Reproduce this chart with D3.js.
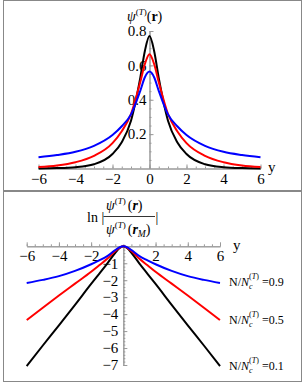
<!DOCTYPE html>
<html>
<head>
<meta charset="utf-8">
<script src="https://cdn.jsdelivr.net/npm/d3@7"></script>
<style>
  body { margin: 0; background: #fff; }
  svg { display: block; }
</style>
</head>
<body>
<svg id="chart" width="305" height="384"></svg>
<script>
// sample positions along y
let ys = [-6, -5, -4, -3, -2, -1.5, -1, -0.5, -0.25, 0, 0.25, 0.5, 1, 1.5, 2, 3, 4, 5, 6]

// top panel: psi(r)
let psiBlack = [0.0007, 0.0022, 0.0073, 0.0245, 0.084, 0.153, 0.278, 0.527, 0.684, 0.771, 0.684, 0.527, 0.278, 0.153, 0.084, 0.0245, 0.0073, 0.0022, 0.0007]
let psiRed = [0.0086, 0.0178, 0.0367, 0.0737, 0.148, 0.217, 0.317, 0.503, 0.608, 0.665, 0.608, 0.503, 0.317, 0.217, 0.148, 0.0737, 0.0367, 0.0178, 0.0086]
let psiBlue = [0.065, 0.078, 0.097, 0.132, 0.195, 0.246, 0.315, 0.452, 0.531, 0.564, 0.531, 0.452, 0.315, 0.246, 0.195, 0.132, 0.097, 0.078, 0.065]

// bottom panel: ln|psi(r)/psi(rM)|
let lnBlack = [-7.06, -5.85, -4.66, -3.45, -2.22, -1.62, -1.02, -0.38, -0.12, 0, -0.12, -0.38, -1.02, -1.62, -2.22, -3.45, -4.66, -5.85, -7.06]
let lnRed = [-4.35, -3.62, -2.9, -2.2, -1.5, -1.12, -0.74, -0.28, -0.09, 0, -0.09, -0.28, -0.74, -1.12, -1.5, -2.2, -2.9, -3.62, -4.35]
let lnBlue = [-2.16, -1.98, -1.76, -1.45, -1.06, -0.83, -0.58, -0.22, -0.06, 0, -0.06, -0.22, -0.58, -0.83, -1.06, -1.45, -1.76, -1.98, -2.16]

let legendLabels = ["0.9", "0.5", "0.1"]
let colors = ["#000000", "#ff0000", "#0000ff"]

let serif = "'Liberation Serif', 'DejaVu Serif', serif"
let svg = d3.select("#chart").style("font-family", serif)
let fmt = function (d) { return d < 0 ? "\u2212" + Math.abs(d) : String(d) }

// gray axis look, serif labels
function styleAxis(g) {
    g.attr("font-family", serif).attr("font-size", 15)
    g.selectAll("path, line").style("stroke", "#999")
    g.selectAll("text").style("fill", "#000").style("font-family", serif).style("font-size", "15px")
}

// panel frames
svg.append("rect").attr("x", 3.5).attr("y", 0.5).attr("width", 298).attr("height", 190)
    .style("fill", "none").style("stroke", "#888")
svg.append("rect").attr("x", 3.5).attr("y", 191.5).attr("width", 298).attr("height", 190)
    .style("fill", "none").style("stroke", "#888")

// ---------- top panel ----------
let xT = d3.scaleLinear().domain([-6, 6]).range([38.5, 260.5])
let yT = d3.scaleLinear().domain([0, 0.8]).range([168.5, 31])

let gT = svg.append("g")

// minor ticks
gT.append("g").attr("transform", "translate(0," + yT(0) + ")")
    .call(d3.axisBottom(xT).tickValues(d3.range(-6, 6.01, 0.5)).tickSize(-2).tickSizeOuter(0).tickFormat(""))
    .call(styleAxis)
gT.append("g").attr("transform", "translate(" + xT(0) + ",0)")
    .call(d3.axisLeft(yT).tickValues(d3.range(0.05, 0.81, 0.05)).tickSize(-2).tickSizeOuter(0).tickFormat(""))
    .call(styleAxis)
// major ticks
gT.append("g").attr("transform", "translate(0," + yT(0) + ")")
    .call(d3.axisBottom(xT).tickValues([-6, -4, -2, 0, 2, 4, 6]).tickSize(-4).tickSizeOuter(0).tickPadding(5).tickFormat(fmt))
    .call(styleAxis)
gT.append("g").attr("transform", "translate(" + xT(0) + ",0)")
    .call(d3.axisLeft(yT).tickValues([0.2, 0.4, 0.6, 0.8]).tickSize(-4).tickSizeOuter(0).tickPadding(3).tickFormat(d3.format(".1f")))
    .call(styleAxis)

let lineT = d3.line().x(function (d) { return xT(d[0]) }).y(function (d) { return yT(d[1]) }).curve(d3.curveMonotoneX)
let topSeries = [psiBlack, psiRed, psiBlue]
topSeries.forEach(function (s, i) {
    gT.append("path")
        .attr("d", lineT(ys.map(function (y, j) { return [y, s[j]] })))
        .style("fill", "none").style("stroke", colors[i]).style("stroke-width", 2)
})

// axis titles
let tT = svg.append("text").attr("x", 127).attr("y", 20.5).style("font-size", "14px")
tT.append("tspan").style("font-style", "italic").text("\u03C8")
tT.append("tspan").attr("dy", -6).style("font-size", "9px").text("(")
tT.append("tspan").style("font-size", "9px").style("font-style", "italic").text("T")
tT.append("tspan").style("font-size", "9px").text(")")
tT.append("tspan").attr("dy", 6).text("(")
tT.append("tspan").style("font-weight", "bold").text("r")
tT.append("tspan").text(")")

svg.append("text").attr("x", 268).attr("y", 172).style("font-size", "15px").text("y")

// ---------- bottom panel ----------
let xB = d3.scaleLinear().domain([-6, 6]).range([26.7, 220])
let yB = d3.scaleLinear().domain([-7, 0]).range([365, 246.3])

let gB = svg.append("g")
gB.append("g").attr("transform", "translate(0," + yB(0) + ")")
    .call(d3.axisBottom(xB).tickValues(d3.range(-6, 6.01, 0.5)).tickSize(-2).tickSizeOuter(0).tickFormat(""))
    .call(styleAxis)
gB.append("g").attr("transform", "translate(" + xB(0) + ",0)")
    .call(d3.axisLeft(yB).tickValues(d3.range(-7, 0.01, 0.2)).tickSize(-2).tickSizeOuter(0).tickFormat(""))
    .call(styleAxis)
gB.append("g").attr("transform", "translate(0," + yB(0) + ")")
    .call(d3.axisBottom(xB).tickValues([-6, -4, -2, 2, 4, 6]).tickSize(-4).tickSizeOuter(0).tickPadding(4).tickFormat(fmt))
    .call(styleAxis)
gB.append("g").attr("transform", "translate(" + xB(0) + ",0)")
    .call(d3.axisLeft(yB).tickValues([-7, -6, -5, -4, -3, -2, -1]).tickSize(-4).tickSizeOuter(0).tickPadding(5).tickFormat(fmt))
    .call(styleAxis)

let lineB = d3.line().x(function (d) { return xB(d[0]) }).y(function (d) { return yB(d[1]) }).curve(d3.curveMonotoneX)
let botSeries = [lnBlack, lnRed, lnBlue]
botSeries.forEach(function (s, i) {
    gB.append("path")
        .attr("d", lineB(ys.map(function (y, j) { return [y, s[j]] })))
        .style("fill", "none").style("stroke", colors[i]).style("stroke-width", 2)
})

svg.append("text").attr("x", 233).attr("y", 250).style("font-size", "15px").text("y")

// fraction label
svg.append("text").attr("x", 87).attr("y", 222).style("font-size", "14px").text("ln |")
svg.append("text").attr("x", 155.5).attr("y", 222).style("font-size", "14px").text("|")
svg.append("line").attr("x1", 103.5).attr("x2", 155).attr("y1", 216.5).attr("y2", 216.5)
    .style("stroke", "#000").style("stroke-width", 0.8)

function psiText(x, y, sub) {
    let t = svg.append("text").attr("x", x).attr("y", y).style("font-size", "14px")
    t.append("tspan").style("font-style", "italic").text("\u03C8")
    t.append("tspan").attr("dy", -6).style("font-size", "9px").text("(")
    t.append("tspan").style("font-size", "9px").style("font-style", "italic").text("T")
    t.append("tspan").style("font-size", "9px").text(")")
    t.append("tspan").attr("dy", 6).attr("dx", 2).text("(")
    t.append("tspan").style("font-weight", "bold").style("font-style", "italic").text("r")
    if (sub) {
        t.append("tspan").attr("dy", 3).style("font-size", "9.5px").style("font-style", "italic").text(sub)
        t.append("tspan").attr("dy", -3).text(")")
    } else {
        t.append("tspan").text(")")
    }
}
psiText(106, 210, null)
psiText(106, 234, "M")

// legend labels at the right ends
let legendBase = [286, 323.5, 370]
legendLabels.forEach(function (lab, i) {
    let t = svg.append("text").attr("x", 229).attr("y", legendBase[i]).style("font-size", "12px")
    t.append("tspan").text("N/")
    t.append("tspan").style("font-style", "italic").text("N")
    t.append("tspan").attr("dy", 3).style("font-size", "8px").style("font-style", "italic").text("c")
    t.append("tspan").attr("dy", -10).attr("dx", -3.5).style("font-size", "8px").text("(")
    t.append("tspan").style("font-size", "8px").style("font-style", "italic").text("T")
    t.append("tspan").style("font-size", "8px").text(")")
    t.append("tspan").attr("dy", 7).text(" =" + lab)
})
</script>
</body>
</html>
